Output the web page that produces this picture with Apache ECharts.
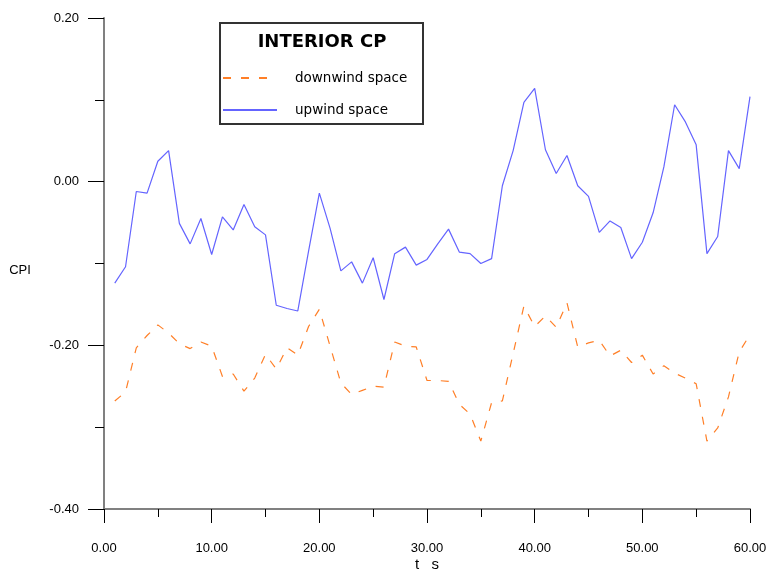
<!DOCTYPE html>
<html>
<head>
<meta charset="utf-8">
<script src="https://cdn.jsdelivr.net/npm/echarts@6/dist/echarts.min.js"></script>
<style>html,body{margin:0;padding:0;background:#fff;}#chart{width:767px;height:570px;}</style>
</head>
<body>
<div id="chart"></div>
<script>
// time steps (s)
const timeSteps = [1,2,3,4,5,6,7,8,9,10,11,12,13,14,15,16,17,18,19,20,21,22,23,24,25,26,27,28,29,30,
                   31,32,33,34,35,36,37,38,39,40,41,42,43,44,45,46,47,48,49,50,51,52,53,54,55,56,57,58,59,60];
const downwindSpace = [-0.268,-0.257,-0.203,-0.188,-0.175,-0.185,-0.198,-0.204,-0.196,-0.201,
                       -0.238,-0.235,-0.256,-0.240,-0.211,-0.229,-0.203,-0.212,-0.177,-0.156,
                       -0.201,-0.246,-0.260,-0.255,-0.250,-0.251,-0.196,-0.201,-0.202,-0.243,
                       -0.243,-0.244,-0.272,-0.284,-0.317,-0.270,-0.268,-0.210,-0.152,-0.177,
                       -0.164,-0.178,-0.148,-0.202,-0.197,-0.194,-0.213,-0.206,-0.221,-0.212,
                       -0.235,-0.225,-0.234,-0.240,-0.247,-0.317,-0.301,-0.263,-0.208,-0.187];
const upwindSpace = [-0.124,-0.104,-0.012,-0.014,0.025,0.038,-0.051,-0.076,-0.045,-0.089,
                     -0.043,-0.059,-0.028,-0.055,-0.065,-0.151,-0.155,-0.158,-0.085,-0.014,
                     -0.057,-0.109,-0.098,-0.124,-0.093,-0.144,-0.088,-0.080,-0.102,-0.095,
                     -0.076,-0.058,-0.086,-0.088,-0.100,-0.094,-0.005,0.038,0.097,0.114,
                     0.039,0.010,0.032,-0.005,-0.018,-0.062,-0.048,-0.056,-0.094,-0.074,
                     -0.038,0.018,0.094,0.073,0.045,-0.088,-0.067,0.038,0.016,0.104];
const seriesNames = ['downwind space', 'upwind space'];
const chartTitle = 'INTERIOR CP';
const xAxisTitle = 't   s';
const yAxisTitle = 'CPI';

const chart = echarts.init(document.getElementById('chart'), null, {renderer: 'canvas'});
const pairs = (vals) => timeSteps.map((t, i) => [t, vals[i]]);

chart.setOption({
  animation: false,
  backgroundColor: '#ffffff',
  title: {
    text: chartTitle,
    left: 317, top: 28, textAlign: 'center',
    textStyle: {fontFamily: 'DejaVu Sans', fontWeight: 'bold', fontSize: 18, color: '#000'}
  },
  graphic: [{
    type: 'rect', left: 219, top: 22, z: 5,
    shape: {width: 203, height: 101},
    style: {fill: 'rgba(0,0,0,0)', stroke: '#333', lineWidth: 2}
  }],
  legend: {
    orient: 'vertical', left: 222, top: 71, padding: 0,
    itemWidth: 54, itemHeight: 14, itemGap: 18,
    data: seriesNames,
    itemStyle: {opacity: 0},
    textStyle: {fontFamily: 'DejaVu Sans', fontSize: 13.5, color: '#000', padding: [0,0,0,13]}
  },
  grid: {left: 104, right: 17, top: 18, bottom: 61, containLabel: false, outerBoundsMode: 'none'},
  xAxis: {
    type: 'value', min: 0, max: 60, interval: 10,
    name: xAxisTitle, nameLocation: 'middle', nameGap: 48, nameMoveOverlap: false,
    nameTextStyle: {fontFamily: 'Liberation Sans', fontSize: 15, color: '#000'},
    axisLine: {show: true, onZero: false, lineStyle: {color: '#808080', width: 2}},
    axisTick: {show: true, length: 14, lineStyle: {color: '#000', width: 1}},
    minorTick: {show: true, splitNumber: 2, length: 8, lineStyle: {color: '#000', width: 1}},
    axisLabel: {margin: 33, fontFamily: 'Liberation Sans', fontSize: 13, color: '#000',
                formatter: v => v.toFixed(2)},
    splitLine: {show: false}
  },
  yAxis: {
    type: 'value', min: -0.4, max: 0.2, interval: 0.2,
    name: yAxisTitle, nameLocation: 'middle', nameGap: 84, nameRotate: 0, nameMoveOverlap: false,
    nameTextStyle: {fontFamily: 'Liberation Sans', fontSize: 13, color: '#000', align: 'center', verticalAlign: 'top'},
    axisLine: {show: true, onZero: false, lineStyle: {color: '#808080', width: 2}},
    axisTick: {show: true, length: 16, lineStyle: {color: '#000', width: 1}},
    minorTick: {show: true, splitNumber: 2, length: 9, lineStyle: {color: '#000', width: 1}},
    axisLabel: {margin: 25, fontFamily: 'Liberation Sans', fontSize: 13, color: '#000',
                formatter: v => v.toFixed(2)},
    splitLine: {show: false}
  },
  series: [
    {
      name: seriesNames[0], type: 'line', data: pairs(downwindSpace),
      symbol: 'none', showSymbol: false,
      lineStyle: {color: '#ff7f27', width: 1.2, type: [8, 10]},
      itemStyle: {color: '#ff7f27'}
    },
    {
      name: seriesNames[1], type: 'line', data: pairs(upwindSpace),
      symbol: 'none', showSymbol: false,
      lineStyle: {color: '#6464ff', width: 1.2, type: 'solid'},
      itemStyle: {color: '#6464ff'}
    }
  ]
});
</script>
</body>
</html>
